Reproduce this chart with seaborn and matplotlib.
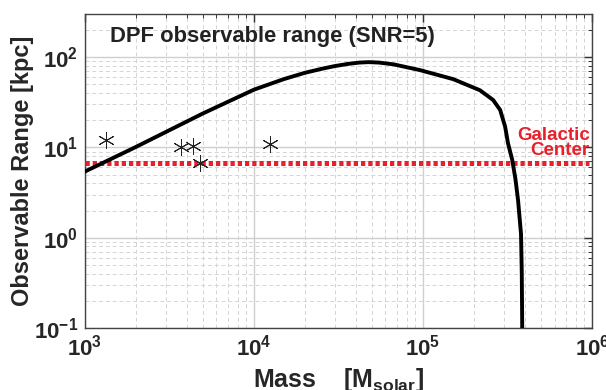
import numpy as np
import pandas as pd
import seaborn as sns
import matplotlib.pyplot as plt
from matplotlib.ticker import LogLocator, NullFormatter

# observable range curve
mass = [1.0e3, 2.0e3, 5.0e3, 1.0e4, 1.5e4, 2.0e4, 2.5e4, 3.0e4, 3.58e4,
        4.2e4, 4.78e4, 5.5e4, 6.73e4, 9.6e4, 1.51e5, 2.17e5, 2.6e5,
        2.86e5, 3.06e5, 3.18e5, 3.37e5, 3.52e5, 3.65e5, 3.8e5, 3.84e5,
        3.86e5, 3.87e5]
obs_range = [5.4, 10.1, 23.8, 43.6, 57.0, 67.0, 74.0, 79.5, 84.0,
             87.0, 88.0, 87.0, 83.0, 71.8, 57.0, 43.0, 33.5,
             26.0, 17.0, 11.2, 7.3, 4.5, 2.6, 1.1, 0.4,
             0.12, 0.05]

# asterisk markers
star_mass = [1.34e3, 3.69e3, 4.37e3, 4.79e3, 1.25e4]
star_range = [12.0, 10.0, 10.4, 6.8, 11.0]

galactic_center = 6.8
gc_mass = [1.0e3, 9.6e5]

sns.set_style("whitegrid")
plt.rcParams["font.family"] = ["Liberation Sans", "DejaVu Sans"]
plt.rcParams["font.weight"] = "bold"
plt.rcParams["mathtext.fontset"] = "custom"
plt.rcParams["mathtext.rm"] = "Liberation Sans:bold"
plt.rcParams["mathtext.it"] = "Liberation Sans:bold"
plt.rcParams["mathtext.bf"] = "Liberation Sans:bold"

fig = plt.figure(figsize=(6.06, 3.9), dpi=100)
ax = fig.add_axes([0.140, 0.159, 0.837, 0.805])

df_curve = pd.DataFrame({"mass": mass, "range": obs_range})
df_star = pd.DataFrame({"mass": star_mass, "range": star_range})

ax.plot(gc_mass, [galactic_center] * 2, color="#e8202a", lw=3.6,
        dashes=(0.85, 0.6), solid_capstyle="butt", zorder=3)
sns.lineplot(data=df_curve, x="mass", y="range", ax=ax, color="black",
             lw=2.8, sort=False, estimator=None, zorder=4)
ax.plot(df_star["mass"], df_star["range"], linestyle="none",
        marker=(6, 2, 0), markersize=12, markeredgewidth=0.7,
        color="#222222", zorder=5)

ax.set_xscale("log")
ax.set_yscale("log")
ax.set_xlim(1e3, 1e6)
ax.set_ylim(0.1, 300)

ax.xaxis.set_major_locator(LogLocator(base=10, numticks=10))
ax.yaxis.set_major_locator(LogLocator(base=10, numticks=10))
ax.xaxis.set_minor_locator(LogLocator(base=10, subs=np.arange(2, 10), numticks=20))
ax.yaxis.set_minor_locator(LogLocator(base=10, subs=np.arange(2, 10), numticks=20))
ax.xaxis.set_minor_formatter(NullFormatter())
ax.yaxis.set_minor_formatter(NullFormatter())

ax.grid(which="major", color="#cfcfcf", lw=1.0, linestyle="-")
ax.grid(which="minor", color="#d4d4d4", lw=0.7, linestyle=(0, (4, 3)))

ax.tick_params(which="both", direction="in", top=True, right=True,
               color="#333333")
ax.tick_params(which="major", length=6, width=1.0, labelsize=16, pad=5)
ax.tick_params(which="minor", length=3, width=0.7)
for s in ax.spines.values():
    s.set_color("#444444")
    s.set_linewidth(1.0)

ax.set_xlabel(r"Mass    [M$_{\mathrm{solar}}$]", fontsize=18,
              fontweight="bold", labelpad=4)
ax.set_ylabel("Observable Range [kpc]", fontsize=17, fontweight="bold",
              labelpad=0)

ax.text(0.05, 0.93, "DPF observable range (SNR=5)", transform=ax.transAxes,
        fontsize=15.8, fontweight="bold", color="#222222", va="center")
ax.text(0.995, 0.59, "Galactic\nCenter", transform=ax.transAxes,
        fontsize=13.5, fontweight="bold", color="#e8202a",
        ha="right", va="center", multialignment="right", linespacing=0.85)

fig.savefig("out.png", dpi=100)
